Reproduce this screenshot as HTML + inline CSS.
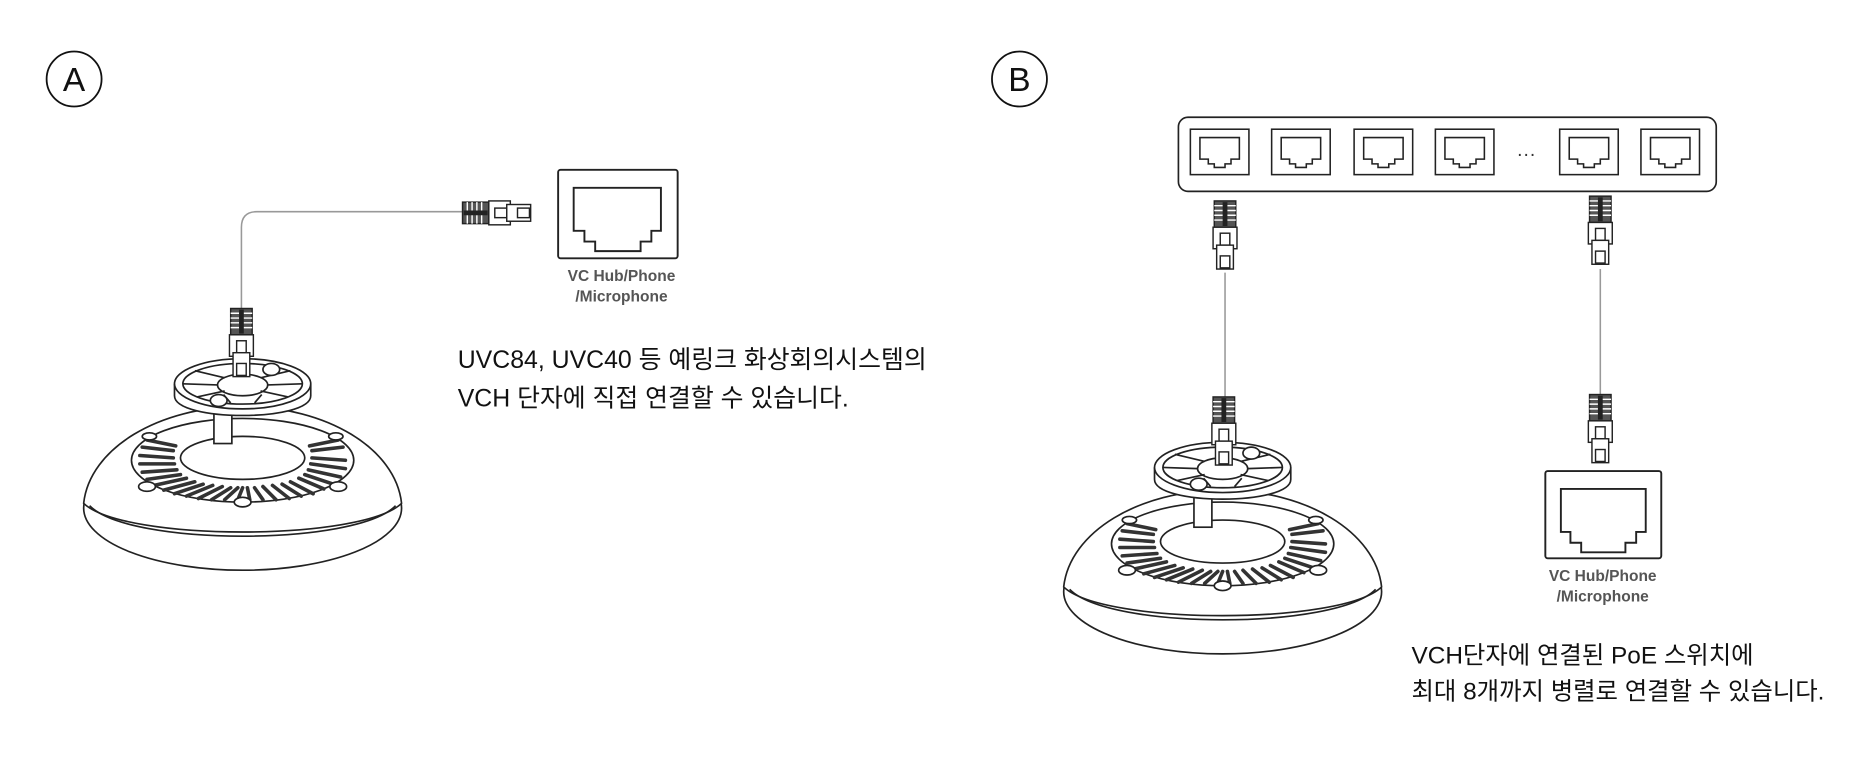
<!DOCTYPE html>
<html><head><meta charset="utf-8"><style>
html,body{margin:0;padding:0;background:#fff;}
svg{display:block;}
text{font-family:"Liberation Sans","Noto Sans CJK KR",sans-serif;}
</style></head><body>
<svg width="1874" height="758" viewBox="0 0 1568 634" xmlns="http://www.w3.org/2000/svg">
<defs>
<g id="plug" stroke="#222" stroke-width="1.2" fill="#fff">
  <rect x="-9" y="0" width="18" height="22" fill="#555"/>
  <line x1="-9" y1="4" x2="9" y2="4" stroke="#fff"/>
  <line x1="-9" y1="8" x2="9" y2="8" stroke="#fff"/>
  <line x1="-9" y1="12" x2="9" y2="12" stroke="#fff"/>
  <line x1="-9" y1="16" x2="9" y2="16" stroke="#fff"/>
  <rect x="-2" y="1" width="4" height="20" fill="#222" stroke="none"/>
  <rect x="-10" y="22" width="20" height="18"/>
  <rect x="-4" y="27" width="8" height="10"/>
  <rect x="-7" y="37" width="14" height="20"/>
  <rect x="-4" y="46" width="8" height="10"/>
</g>
<g id="port" stroke="#222" stroke-width="1.3" fill="none">
  <rect x="0" y="0" width="49" height="38"/>
  <path d="M8,7 H41 V25 H34 V29 H29 V32 H20 V29 H15 V25 H8 Z"/>
</g>
<g id="dev" stroke="#222" stroke-width="1.4" fill="#fff">
  <ellipse cx="0" cy="40" rx="133" ry="52"/>
  <path d="M-133,36 C-128,-10 -70,-45 0,-45 C70,-45 128,-10 133,36 C100,68 -100,68 -133,36 Z"/>
  <path d="M-128,38 C-95,72 95,72 128,38" fill="none"/>
  <ellipse cx="0" cy="0" rx="93" ry="35"/>
  <ellipse cx="0" cy="-2" rx="52" ry="18"/>
  <g stroke-width="3" stroke="#333" fill="none" stroke-linecap="round">
    <path d="M-86,-4 L-58,-2 M-86,3 L-57,3 M-84,10 L-55,8 M-80,16 L-52,12 M-74,21 L-47,15 M-66,25 L-40,18 M-57,28 L-33,20 M-47,30 L-25,21 M-37,32 L-17,22 M-26,33 L-10,23 M-15,33 L-4,23 M-4,33 L0,23 M6,33 L4,23 M17,33 L10,23 M28,33 L17,22 M39,32 L25,21 M49,30 L33,20 M59,28 L40,18 M68,24 L47,15 M76,20 L52,12 M82,14 L55,8 M86,7 L57,3 M86,0 L58,-2 M-84,-11 L-58,-8 M-80,-17 L-56,-12 M84,-11 L58,-8 M80,-17 L56,-12"/>
  </g>
  <ellipse cx="-80" cy="22" rx="7" ry="4"/>
  <ellipse cx="80" cy="22" rx="7" ry="4"/>
  <ellipse cx="0" cy="35" rx="7" ry="4"/>
  <ellipse cx="-78" cy="-20" rx="6" ry="3"/>
  <ellipse cx="78" cy="-20" rx="6" ry="3"/>
  <rect x="-24" y="-40" width="15" height="26"/>
  <!-- mount ring -->
  <path d="M-57,-64 L-57,-54 C-57,-32 57,-32 57,-54 L57,-64"/>
  <ellipse cx="0" cy="-64" rx="57" ry="21"/>
  <ellipse cx="0" cy="-64" rx="50" ry="17"/>
  <ellipse cx="0" cy="-63" rx="21" ry="9"/>
  <g fill="none">
    <path d="M-50,-64 L-21,-63 M50,-64 L21,-63 M-40,-75 L-15,-69 M40,-75 L15,-69 M-38,-53 L-15,-58 M38,-53 L15,-58 M0,-81 L0,-72 M10,-48 L16,-55 M-10,-48 L-16,-55"/>
  </g>
  <ellipse cx="24" cy="-76" rx="7" ry="5"/>
  <ellipse cx="-20" cy="-50" rx="7" ry="5"/>
</g>
</defs>

<!-- Panel A -->
<circle cx="62" cy="66" r="23" fill="none" stroke="#111" stroke-width="1.5"/>
<text x="62" y="76" font-size="28" text-anchor="middle" fill="#111">A</text>

<path d="M387,177 H215 Q202,177 202,190 V258" fill="none" stroke="#999" stroke-width="1.3"/>
<g transform="translate(418,178) rotate(-90) translate(0,-31)"><use href="#plug"/></g>
<use href="#dev" transform="translate(203,385)"/>
<use href="#plug" transform="translate(202,258)"/>

<g stroke="#222" stroke-width="1.6" fill="none">
  <rect x="467" y="142" width="100" height="74" rx="2"/>
  <path d="M480,157 H553 V193 H545 V202 H536 V210 H498 V202 H489 V193 H480 Z"/>
</g>
<text x="520" y="235" font-size="13" font-weight="bold" text-anchor="middle" fill="#555">VC Hub/Phone</text>
<text x="520" y="252" font-size="13" font-weight="bold" text-anchor="middle" fill="#555">/Microphone</text>

<text x="383" y="308" font-size="20.8" fill="#111">UVC84, UVC40 등 예링크 화상회의시스템의</text>
<text x="383" y="340" font-size="20.8" fill="#111">VCH 단자에 직접 연결할 수 있습니다.</text>

<!-- Panel B -->
<circle cx="853" cy="66" r="23" fill="none" stroke="#111" stroke-width="1.5"/>
<text x="853" y="76" font-size="28" text-anchor="middle" fill="#111">B</text>

<rect x="986" y="98" width="450" height="62" rx="8" fill="none" stroke="#222" stroke-width="1.4"/>
<use href="#port" x="996" y="108"/>
<use href="#port" x="1064" y="108"/>
<use href="#port" x="1133" y="108"/>
<use href="#port" x="1201" y="108"/>
<use href="#port" x="1305" y="108"/>
<use href="#port" x="1373" y="108"/>
<text x="1277" y="134" font-size="16" text-anchor="middle" fill="#333">···</text>

<line x1="1025" y1="228" x2="1025" y2="333" stroke="#999" stroke-width="1.3"/>
<line x1="1339" y1="225" x2="1339" y2="330" stroke="#999" stroke-width="1.3"/>
<use href="#plug" transform="translate(1025,168)"/>
<use href="#plug" transform="translate(1339,164)"/>

<use href="#dev" transform="translate(1023,455)"/>
<use href="#plug" transform="translate(1024,332)"/>
<use href="#plug" transform="translate(1339,330)"/>

<g stroke="#222" stroke-width="1.6" fill="none">
  <rect x="1293" y="394" width="97" height="73" rx="2"/>
  <path d="M1306,409 H1377 V445 H1369 V454 H1360 V462 H1323 V454 H1314 V445 H1306 Z"/>
</g>
<text x="1341" y="486" font-size="13" font-weight="bold" text-anchor="middle" fill="#555">VC Hub/Phone</text>
<text x="1341" y="503" font-size="13" font-weight="bold" text-anchor="middle" fill="#555">/Microphone</text>

<text x="1181" y="555" font-size="20.4" fill="#111">VCH단자에 연결된 PoE 스위치에</text>
<text x="1181" y="585" font-size="20.4" fill="#111">최대 8개까지 병렬로 연결할 수 있습니다.</text>
</svg>
</body></html>
